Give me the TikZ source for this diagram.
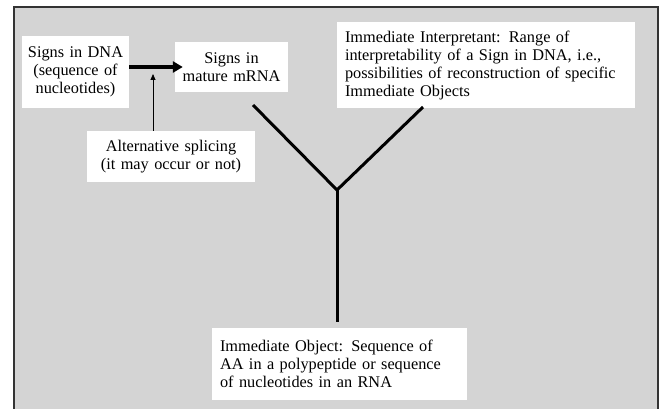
\documentclass[tikz,border=0pt]{standalone}
\usepackage{fontspec}
\setmainfont{Liberation Serif}
\usetikzlibrary{arrows.meta}
\definecolor{sfondo}{RGB}{212,212,212}

\begin{document}
\begin{tikzpicture}[x=1pt,y=-1pt,
	riquadro/.style={fill=white,inner xsep=8pt,inner ysep=4pt,font=\fontsize{16.3}{18}\selectfont},
	freccia/.style={-{Triangle[length=10pt,width=11pt]},line width=3.5pt},
	ramo/.style={line width=3pt}]
	% Sfondo grigio e cornice
	\useasboundingbox (0,0) rectangle (666,409);
	\fill[sfondo] (14,7) rectangle (658,409);
	\draw[line width=1.2pt,black!80] (14,409) -- (14,7) -- (658,7) -- (658,409);

	% Riquadri
	\node[riquadro,inner xsep=3pt,text width=101pt,minimum height=72pt,align=center] (dna) at (75.5,72)
		{Signs in DNA\\(sequence of\\nucleotides)};
	\node[riquadro,inner xsep=3pt,text width=107pt,minimum height=50pt,align=center] (mrna) at (231.5,67)
		{Signs in\\mature mRNA};
	\node[riquadro,text width=152pt,minimum height=51pt,align=center] (splice) at (171,156.5)
		{Alternative splicing\\(it may occur or not)};
	\node[riquadro,inner xsep=8pt,text width=282pt,minimum height=86pt,align=left] (interp) at (486,65)
		{Immediate Interpretant: Range of\\interpretability of a Sign in DNA, i.e.,\\possibilities of reconstruction of specific\\Immediate Objects};
	\node[riquadro,text width=239pt,minimum height=72pt,align=left] (obj) at (339.5,364)
		{Immediate Object: Sequence of\\AA in a polypeptide or sequence\\of nucleotides in an RNA};

	% Frecce
	\draw[freccia,shorten >=-8pt] (dna.east |- mrna.west) -- (mrna.west);
	\coordinate (punta) at (153,74);
	\draw[-{Triangle[length=6pt,width=5pt]},line width=0.8pt] (splice.north -| punta) -- (punta);

	% Linee a Y
	\coordinate (nodo) at (337,190);
	\coordinate (fineM) at (253,105);
	\coordinate (fineI) at (423,107);
	\coordinate (fineO) at (337,322);
	\draw[ramo] (fineM) -- (nodo) -- (fineI);
	\draw[ramo] (nodo) -- (fineO);
\end{tikzpicture}
\end{document}
